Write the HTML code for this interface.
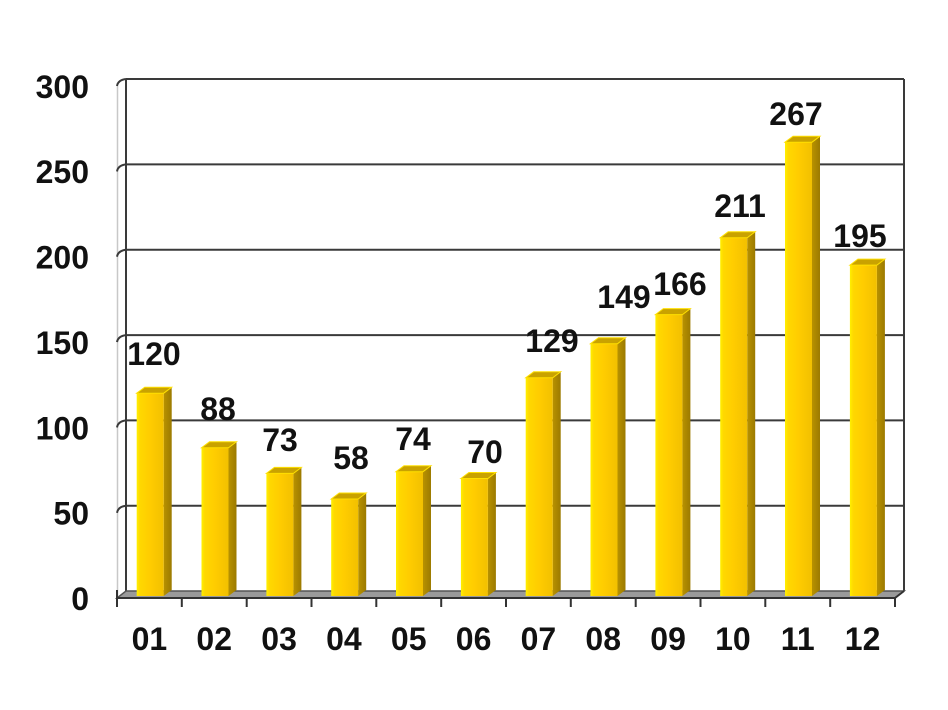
<!DOCTYPE html>
<html>
<head>
<meta charset="utf-8">
<style>
  html,body{margin:0;padding:0;background:#fff;}
  svg{display:block;}
  text{font-family:"Liberation Sans",Arial,sans-serif;font-weight:bold;font-size:32px;fill:#111;}
</style>
</head>
<body>
<svg width="948" height="710" viewBox="0 0 948 710" xmlns="http://www.w3.org/2000/svg">
  <defs>
    <linearGradient id="front" x1="0" y1="0" x2="1" y2="0">
      <stop offset="0" stop-color="#FFF000"/>
      <stop offset="0.12" stop-color="#FFD800"/>
      <stop offset="0.5" stop-color="#FFCC00"/>
      <stop offset="1" stop-color="#F2C000"/>
    </linearGradient>
    <linearGradient id="side" x1="0" y1="0" x2="1" y2="0">
      <stop offset="0" stop-color="#B89200"/>
      <stop offset="1" stop-color="#9C7A00"/>
    </linearGradient>
  </defs>

  <!-- back wall gridlines -->
  <g stroke="#3a3a3a" stroke-width="2" fill="none">
    <line x1="126" y1="79" x2="904" y2="79"/>
    <line x1="126" y1="164.4" x2="904" y2="164.4"/>
    <line x1="126" y1="249.7" x2="904" y2="249.7"/>
    <line x1="126" y1="335.1" x2="904" y2="335.1"/>
    <line x1="126" y1="420.4" x2="904" y2="420.4"/>
    <line x1="126" y1="505.8" x2="904" y2="505.8"/>
    <line x1="126" y1="79" x2="126" y2="591"/>
    <line x1="904" y1="79" x2="904" y2="591"/>
  </g>
  <!-- left side faint edge -->
  <line x1="117.5" y1="86" x2="117.5" y2="598" stroke="#c8c8c8" stroke-width="1.5"/>
  <!-- left diagonal ticks -->
  <g stroke="#3a3a3a" stroke-width="2" fill="none">
    <path d="M117,86 Q118,80 126,79"/>
    <path d="M117,171.4 Q118,165.4 126,164.4"/>
    <path d="M117,256.7 Q118,250.7 126,249.7"/>
    <path d="M117,342.1 Q118,336.1 126,335.1"/>
    <path d="M117,427.4 Q118,421.4 126,420.4"/>
    <path d="M117,512.8 Q118,506.8 126,505.8"/>
  </g>

  <!-- floor -->
  <polygon points="126,591 904,591 895,598 117,598" fill="#9a9a9a" stroke="#555" stroke-width="1.5"/>
  <line x1="117" y1="598" x2="895" y2="598" stroke="#333" stroke-width="2"/>
  <line x1="117" y1="598" x2="117" y2="590" stroke="#333" stroke-width="2"/>
  <line x1="904" y1="591" x2="895" y2="598" stroke="#333" stroke-width="2"/>

  <!-- x ticks -->
  <g stroke="#333" stroke-width="2">
    <line x1="117" y1="598" x2="117" y2="607"/>
    <line x1="181.8" y1="598" x2="181.8" y2="607"/>
    <line x1="246.7" y1="598" x2="246.7" y2="607"/>
    <line x1="311.5" y1="598" x2="311.5" y2="607"/>
    <line x1="376.3" y1="598" x2="376.3" y2="607"/>
    <line x1="441.2" y1="598" x2="441.2" y2="607"/>
    <line x1="506" y1="598" x2="506" y2="607"/>
    <line x1="570.8" y1="598" x2="570.8" y2="607"/>
    <line x1="635.7" y1="598" x2="635.7" y2="607"/>
    <line x1="700.5" y1="598" x2="700.5" y2="607"/>
    <line x1="765.3" y1="598" x2="765.3" y2="607"/>
    <line x1="830.2" y1="598" x2="830.2" y2="607"/>
    <line x1="895" y1="598" x2="895" y2="607"/>
  </g>

  <!-- bars -->
  <g transform="translate(136.7,0)">
    <polygon points="27,393.2 35,387.2 35,590 27,596" fill="url(#side)"/>
    <rect x="0" y="393.2" width="27" height="202.8" fill="url(#front)"/>
    <polygon points="0,393.2 8,387.2 35,387.2 27,393.2" fill="#C9A200" stroke="#FFE000" stroke-width="1"/>
  </g>
  <g transform="translate(201.5,0)">
    <polygon points="27,447.8 35,441.8 35,590 27,596" fill="url(#side)"/>
    <rect x="0" y="447.8" width="27" height="148.2" fill="url(#front)"/>
    <polygon points="0,447.8 8,441.8 35,441.8 27,447.8" fill="#C9A200" stroke="#FFE000" stroke-width="1"/>
  </g>
  <g transform="translate(266.4,0)">
    <polygon points="27,473.4 35,467.4 35,590 27,596" fill="url(#side)"/>
    <rect x="0" y="473.4" width="27" height="122.6" fill="url(#front)"/>
    <polygon points="0,473.4 8,467.4 35,467.4 27,473.4" fill="#C9A200" stroke="#FFE000" stroke-width="1"/>
  </g>
  <g transform="translate(331.2,0)">
    <polygon points="27,499 35,493 35,590 27,596" fill="url(#side)"/>
    <rect x="0" y="499" width="27" height="97" fill="url(#front)"/>
    <polygon points="0,499 8,493 35,493 27,499" fill="#C9A200" stroke="#FFE000" stroke-width="1"/>
  </g>
  <g transform="translate(396,0)">
    <polygon points="27,471.7 35,465.7 35,590 27,596" fill="url(#side)"/>
    <rect x="0" y="471.7" width="27" height="124.3" fill="url(#front)"/>
    <polygon points="0,471.7 8,465.7 35,465.7 27,471.7" fill="#C9A200" stroke="#FFE000" stroke-width="1"/>
  </g>
  <g transform="translate(460.9,0)">
    <polygon points="27,478.5 35,472.5 35,590 27,596" fill="url(#side)"/>
    <rect x="0" y="478.5" width="27" height="117.5" fill="url(#front)"/>
    <polygon points="0,478.5 8,472.5 35,472.5 27,478.5" fill="#C9A200" stroke="#FFE000" stroke-width="1"/>
  </g>
  <g transform="translate(525.7,0)">
    <polygon points="27,377.8 35,371.8 35,590 27,596" fill="url(#side)"/>
    <rect x="0" y="377.8" width="27" height="218.2" fill="url(#front)"/>
    <polygon points="0,377.8 8,371.8 35,371.8 27,377.8" fill="#C9A200" stroke="#FFE000" stroke-width="1"/>
  </g>
  <g transform="translate(590.5,0)">
    <polygon points="27,343.7 35,337.7 35,590 27,596" fill="url(#side)"/>
    <rect x="0" y="343.7" width="27" height="252.3" fill="url(#front)"/>
    <polygon points="0,343.7 8,337.7 35,337.7 27,343.7" fill="#C9A200" stroke="#FFE000" stroke-width="1"/>
  </g>
  <g transform="translate(655.4,0)">
    <polygon points="27,314.6 35,308.6 35,590 27,596" fill="url(#side)"/>
    <rect x="0" y="314.6" width="27" height="281.4" fill="url(#front)"/>
    <polygon points="0,314.6 8,308.6 35,308.6 27,314.6" fill="#C9A200" stroke="#FFE000" stroke-width="1"/>
  </g>
  <g transform="translate(720.2,0)">
    <polygon points="27,237.8 35,231.8 35,590 27,596" fill="url(#side)"/>
    <rect x="0" y="237.8" width="27" height="358.2" fill="url(#front)"/>
    <polygon points="0,237.8 8,231.8 35,231.8 27,237.8" fill="#C9A200" stroke="#FFE000" stroke-width="1"/>
  </g>
  <g transform="translate(785,0)">
    <polygon points="27,142.2 35,136.2 35,590 27,596" fill="url(#side)"/>
    <rect x="0" y="142.2" width="27" height="453.8" fill="url(#front)"/>
    <polygon points="0,142.2 8,136.2 35,136.2 27,142.2" fill="#C9A200" stroke="#FFE000" stroke-width="1"/>
  </g>
  <g transform="translate(849.9,0)">
    <polygon points="27,265.1 35,259.1 35,590 27,596" fill="url(#side)"/>
    <rect x="0" y="265.1" width="27" height="330.9" fill="url(#front)"/>
    <polygon points="0,265.1 8,259.1 35,259.1 27,265.1" fill="#C9A200" stroke="#FFE000" stroke-width="1"/>
  </g>

  <!-- y labels -->
  <g text-anchor="end">
    <text x="89" y="97.9">300</text>
    <text x="89" y="183.2">250</text>
    <text x="89" y="268.6">200</text>
    <text x="89" y="353.9">150</text>
    <text x="89" y="439.3">100</text>
    <text x="89" y="524.6">50</text>
    <text x="89" y="610">0</text>
  </g>

  <!-- x labels -->
  <g text-anchor="middle">
    <text x="149.4" y="650">01</text>
    <text x="214.2" y="650">02</text>
    <text x="279.1" y="650">03</text>
    <text x="343.9" y="650">04</text>
    <text x="408.7" y="650">05</text>
    <text x="473.6" y="650">06</text>
    <text x="538.4" y="650">07</text>
    <text x="603.2" y="650">08</text>
    <text x="668.1" y="650">09</text>
    <text x="732.9" y="650">10</text>
    <text x="797.7" y="650">11</text>
    <text x="862.6" y="650">12</text>
  </g>

  <!-- data labels -->
  <g text-anchor="middle">
    <text x="154" y="365">120</text>
    <text x="218" y="420">88</text>
    <text x="280" y="451">73</text>
    <text x="351" y="469">58</text>
    <text x="413" y="450">74</text>
    <text x="485" y="463">70</text>
    <text x="552" y="352">129</text>
    <text x="624" y="308">149</text>
    <text x="680" y="295">166</text>
    <text x="740" y="217">211</text>
    <text x="796" y="125">267</text>
    <text x="860" y="247">195</text>
  </g>
</svg>
</body>
</html>
